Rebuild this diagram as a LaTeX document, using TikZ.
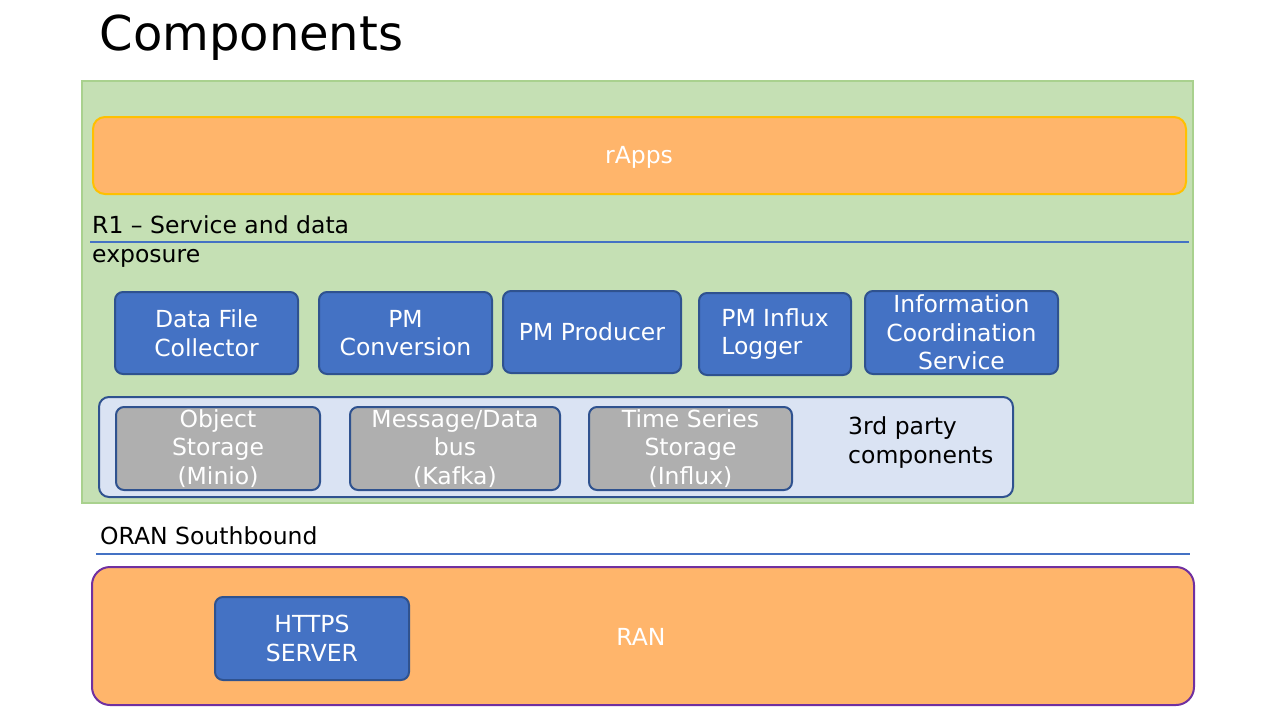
\documentclass[tikz,border=0pt]{standalone}
\usepackage{fontspec}
\setmainfont{DejaVu Sans}
\definecolor{cblue}{HTML}{4472C4}
\definecolor{cdark}{HTML}{2F528F}
\definecolor{corange}{HTML}{FFB56B}
\definecolor{cgreen}{HTML}{C5E0B4}
\definecolor{cgreenb}{HTML}{A9D18E}
\definecolor{cyel}{HTML}{FFC000}
\definecolor{cpur}{HTML}{7030A0}
\definecolor{clight}{HTML}{DAE3F3}
\definecolor{cgray}{HTML}{AFAFAF}
\begin{document}
\begin{tikzpicture}[x=1pt,y=-1pt,
 txt/.style={font=\fontsize{23.5}{28.5}\selectfont,align=center,text=white},
 bbox/.style={draw=cdark,fill=cblue,line width=2pt,rounded corners=8pt},
 gbox/.style={draw=cdark,fill=cgray,line width=2pt,rounded corners=8pt},
 line/.style={draw=cblue,line width=2pt},
 lbl/.style={font=\fontsize{23.5}{29}\selectfont,align=left,anchor=north west,inner sep=0pt}]
\useasboundingbox (0,0) rectangle (1280,720);
\node[anchor=west,font=\fontsize{48}{52}\selectfont] (title) at (96,38) {Components};
\draw[fill=cgreen,draw=cgreenb,line width=2pt] (82,81) rectangle (1193,503);
\draw[fill=corange,draw=cyel,line width=2pt,rounded corners=12pt] (93,117) rectangle (1186,194);
\node[txt] (rapps) at (639,157) {rApps};
\node[lbl] (r1) at (92,215) {R1 – Service and data\\exposure};
\draw[line] (90,242) -- (1189,242);
\draw[bbox] (115,292) rectangle node[txt] (dfc) {Data File\\Collector} (298,374);
\draw[bbox] (319,292) rectangle node[txt] (pmc) {PM\\Conversion} (492,374);
\draw[bbox] (503,291) rectangle node[txt] (pmp) {PM Producer} (681,373);
\draw[bbox] (699,293) rectangle node[txt,align=left] (pmi) {PM Influx\\Logger} (851,375);
\draw[bbox] (865,291) rectangle node[txt] (ics) {Information\\Coordination\\Service} (1058,374);
\draw[draw=cdark,fill=clight,line width=2pt,rounded corners=10pt] (99,397) rectangle (1013,497);
\draw[gbox] (116,407) rectangle node[txt] (obj) {Object\\Storage\\(Minio)} (320,490);
\draw[gbox] (350,407) rectangle node[txt] (msg) {Message/Data\\bus\\(Kafka)} (560,490);
\draw[gbox] (589,407) rectangle node[txt] (tss) {Time Series\\Storage\\(Influx)} (792,490);
\node[lbl] (third) at (848,416) {3rd party\\components};
\node[lbl] (oran) at (100,526) {ORAN Southbound};
\draw[line] (96,554) -- (1190,554);
\draw[fill=corange,draw=cpur,line width=2pt,rounded corners=18pt] (92,567) rectangle (1194,705);
\node[txt] (ran) at (641,637) {RAN};
\draw[bbox] (215,597) rectangle node[txt] (https) {HTTPS\\SERVER} (409,680);
\end{tikzpicture}
\end{document}
